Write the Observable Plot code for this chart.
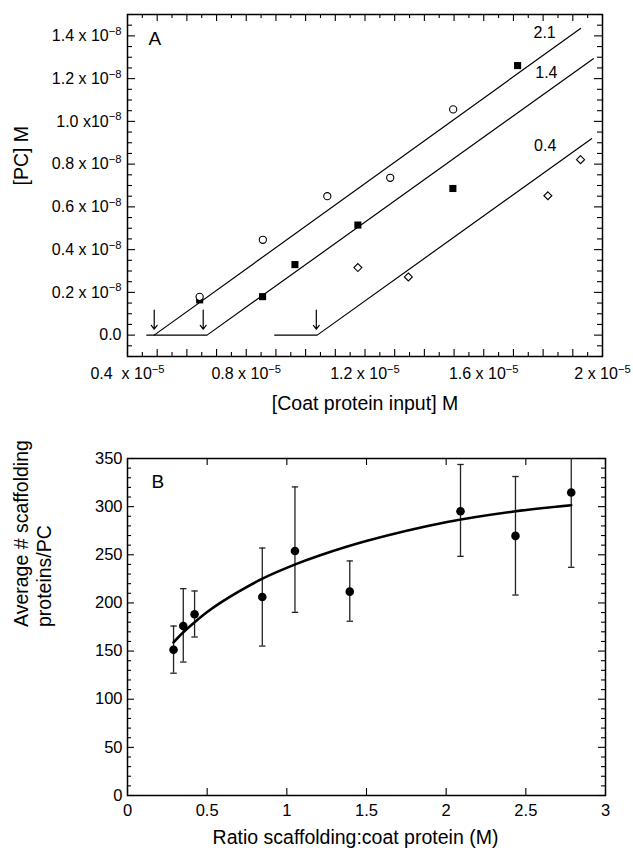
<!DOCTYPE html>
<html><head><meta charset="utf-8">
<script src="https://cdn.jsdelivr.net/npm/d3@7"></script>
<script src="https://cdn.jsdelivr.net/npm/@observablehq/plot@0.6"></script>
<style>
body{margin:0;background:#fff;}
#chart svg{display:block;}
</style></head><body><div id="chart"></div>
<script>
// ---------- Panel A data (x in 1e-5 M, y in 1e-8 M) ----------
const circX = [0.643, 0.856, 1.073, 1.285, 1.497];
const circY = [0.179, 0.446, 0.650, 0.736, 1.056];
const sqX = [0.643, 0.855, 0.964, 1.176, 1.496, 1.714];
const sqY = [0.165, 0.180, 0.330, 0.515, 0.686, 1.261];
const diaX = [1.176, 1.346, 1.816, 1.926];
const diaY = [0.316, 0.272, 0.652, 0.821];
const fit21X = [0.465, 0.490, 1.926];
const fit21Y = [0, 0, 1.435];
const fit14X = [0.490, 0.668, 1.969];
const fit14Y = [0, 0, 1.293];
const fit04X = [0.896, 1.039, 1.963];
const fit04Y = [0, 0, 0.919];
const arrowX = [0.490, 0.655, 1.036];
const arrowYStart = [0.117, 0.117, 0.117];
const arrowYEnd = [0.028, 0.028, 0.028];
const fitLabels = ["2.1", "1.4", "0.4"];
const fitLabelX = [1.805, 1.811, 1.807];
const fitLabelY = [1.414, 1.225, 0.884];
const xTicksA = [0.4, 0.8, 1.2, 1.6, 2.0];
const xTickLabelsA = ["0.4  x 10^−5", "0.8 x 10^−5", "1.2 x 10^−5", "1.6 x 10^−5", "2 x 10^−5"];
const yTicksA = [0, 0.2, 0.4, 0.6, 0.8, 1.0, 1.2, 1.4];
const yTickLabelsA = ["0.0", "0.2 x 10^−8", "0.4 x 10^−8", "0.6 x 10^−8", "0.8 x 10^−8", "1.0 x10^−8", "1.2 x 10^−8", "1.4 x 10^−8"];
const xMajorA = [0.4,0.5,0.6,0.7,0.8,0.9,1.0,1.1,1.2,1.3,1.4,1.5,1.6,1.7,1.8,1.9,2.0];
const xMinorA = [0.45,0.55,0.65,0.75,0.85,0.95,1.05,1.15,1.25,1.35,1.45,1.55,1.65,1.75,1.85,1.95];
const yMinorA = [-0.1,-0.05,0.05,0.1,0.15,0.25,0.3,0.35,0.45,0.5,0.55,0.65,0.7,0.75,0.85,0.9,0.95,1.05,1.1,1.15,1.25,1.3,1.35,1.45,1.5];

// ---------- Panel B data ----------
const ratio = [0.289, 0.350, 0.421, 0.846, 1.051, 1.395, 2.090, 2.435, 2.785];
const avgScaf = [151.4, 176.0, 188.2, 206.2, 254.0, 211.7, 295.2, 269.6, 314.7];
const errLow = [127.0, 138.6, 164.6, 155.2, 190.2, 181.0, 248.4, 208.2, 237.0];
const errHigh = [176.0, 214.8, 212.4, 257.0, 320.5, 243.6, 343.8, 331.3, 392.0];
const curveX = [0.289, 0.350, 0.425, 0.500, 0.582, 0.700, 0.844, 1.053, 1.210, 1.504, 2.006, 2.425, 2.785];
const curveY = [159.0, 169.5, 180.5, 190.5, 200.0, 212.0, 225.0, 240.0, 249.5, 264.5, 284.0, 295.0, 301.5];
const xTicksB = [0, 0.5, 1, 1.5, 2, 2.5, 3];
const yTicksB = [0, 50, 100, 150, 200, 250, 300, 350];
const yMinorB = [10,20,30,40,60,70,80,90,110,120,130,140,160,170,180,190,210,220,230,240,260,270,280,290,310,320,330,340];

const FONT = "Liberation Sans, Arial, Helvetica, sans-serif";
const W = 633;

function superscripts(svg) {
  d3.select(svg).selectAll('g[aria-label$="tick label"] text').each(function() {
    const t = this.textContent;
    if (t.includes("^")) {
      const [base, exp] = t.split("^");
      this.textContent = base;
      d3.select(this).append("tspan").attr("dy", "-0.55em").attr("font-size", "0.7em").text(exp);
    }
  });
}

// ---------- Panel A ----------
const mA = {top: 14, bottom: 74, left: 127, right: 31};
const hA = 430;
const fwA = W - mA.left - mA.right, fhA = hA - mA.top - mA.bottom;
const pts = (xs, ys) => xs.map((x, i) => ({x, y: ys[i]}));

const plotA = Plot.plot({
  width: W, height: hA,
  marginTop: mA.top, marginBottom: mA.bottom, marginLeft: mA.left, marginRight: mA.right,
  style: {fontFamily: FONT, fontSize: "16px", background: "white", color: "black"},
  x: {domain: [0.4, 2.0]},
  y: {domain: [-0.1, 1.5]},
  marks: [
    Plot.ruleX(xMajorA, {x: d => d, insetTop: fhA - 7, strokeWidth: 1.1}),
    Plot.ruleX(xMajorA, {x: d => d, insetBottom: fhA - 7, strokeWidth: 1.1}),
    Plot.ruleX(xMinorA, {x: d => d, insetTop: fhA - 4, strokeWidth: 1.1}),
    Plot.ruleX(xMinorA, {x: d => d, insetBottom: fhA - 4, strokeWidth: 1.1}),
    Plot.ruleY(yTicksA, {y: d => d, insetRight: fwA - 8, strokeWidth: 1.1}),
    Plot.ruleY(yTicksA, {y: d => d, insetLeft: fwA - 8, strokeWidth: 1.1}),
    Plot.ruleY(yMinorA, {y: d => d, insetRight: fwA - 5, strokeWidth: 1.1}),
    Plot.ruleY(yMinorA, {y: d => d, insetLeft: fwA - 5, strokeWidth: 1.1}),
    Plot.axisX(xTicksA, {tickFormat: d => xTickLabelsA[xTicksA.indexOf(d)], tickSize: 0, tickPadding: 11, fontSize: 16, label: null}),
    Plot.axisY(yTicksA, {tickFormat: d => yTickLabelsA[yTicksA.indexOf(d)], tickSize: 0, tickPadding: 6, fontSize: 16, label: null}),
    Plot.frame({stroke: "black", strokeWidth: 1.5}),
    Plot.line(pts(fit21X, fit21Y), {x: "x", y: "y", stroke: "black", strokeWidth: 1.2}),
    Plot.line(pts(fit14X, fit14Y), {x: "x", y: "y", stroke: "black", strokeWidth: 1.2}),
    Plot.line(pts(fit04X, fit04Y), {x: "x", y: "y", stroke: "black", strokeWidth: 1.2}),
    Plot.arrow(arrowX.map((x, i) => ({x, y1: arrowYStart[i], y2: arrowYEnd[i]})),
      {x1: "x", x2: "x", y1: "y1", y2: "y2", stroke: "black", strokeWidth: 1.2, headLength: 6, headAngle: 75}),
    Plot.text(fitLabels.map((t, i) => ({t, x: fitLabelX[i], y: fitLabelY[i]})),
      {x: "x", y: "y", text: "t", fontSize: 16, fill: "black"}),
    Plot.dot(pts(sqX, sqY), {x: "x", y: "y", symbol: "square", r: 4, fill: "black", stroke: "none"}),
    Plot.dot(pts(circX, circY), {x: "x", y: "y", symbol: "circle", r: 3.6, fill: "white", stroke: "black", strokeWidth: 1.1}),
    Plot.dot(pts(diaX, diaY), {x: "x", y: "y", symbol: "diamond2", r: 3.6, fill: "white", stroke: "black", strokeWidth: 1.1}),
    Plot.text(["A"], {text: d => d, frameAnchor: "top-left", textAnchor: "start", lineAnchor: "middle", dx: 21, dy: 24, fontSize: 19}),
    Plot.text(["[Coat protein input] M"], {text: d => d, frameAnchor: "bottom", lineAnchor: "middle", dy: 47, fontSize: 19.5}),
    Plot.text(["[PC] M"], {text: d => d, frameAnchor: "left", lineAnchor: "middle", rotate: -90, dx: -106, fontSize: 19.5})
  ]
});
superscripts(plotA);

// ---------- Panel B ----------
const mB = {top: 28, bottom: 55, left: 127, right: 28};
const hB = 420;
const fwB = W - mB.left - mB.right, fhB = hB - mB.top - mB.bottom;
const ptsB = ratio.map((x, i) => ({x, y: avgScaf[i], lo: errLow[i], hi: errHigh[i]}));
const cap = {draw(ctx) { ctx.moveTo(-3.2, 0); ctx.lineTo(3.2, 0); }};

const plotB = Plot.plot({
  width: W, height: hB,
  marginTop: mB.top, marginBottom: mB.bottom, marginLeft: mB.left, marginRight: mB.right,
  style: {fontFamily: FONT, fontSize: "16px", background: "white", color: "black"},
  x: {domain: [0, 3]},
  y: {domain: [0, 350]},
  marks: [
    Plot.ruleX(xTicksB, {x: d => d, insetTop: fhB - 7, strokeWidth: 1.1}),
    Plot.ruleX(xTicksB, {x: d => d, insetBottom: fhB - 7, strokeWidth: 1.1}),
    Plot.ruleY(yTicksB, {y: d => d, insetRight: fwB - 7, strokeWidth: 1.1}),
    Plot.ruleY(yTicksB, {y: d => d, insetLeft: fwB - 7, strokeWidth: 1.1}),
    Plot.ruleY(yMinorB, {y: d => d, insetRight: fwB - 4, strokeWidth: 1.1}),
    Plot.ruleY(yMinorB, {y: d => d, insetLeft: fwB - 4, strokeWidth: 1.1}),
    Plot.axisX(xTicksB, {tickFormat: d => String(d), tickSize: 0, tickPadding: 9, fontSize: 16.5, label: null}),
    Plot.axisY(yTicksB, {tickFormat: d => String(d), tickSize: 0, tickPadding: 5, fontSize: 16.5, label: null}),
    Plot.frame({stroke: "black", strokeWidth: 1.5}),
    Plot.ruleX(ptsB, {x: "x", y1: "lo", y2: "hi", stroke: "#222", strokeWidth: 1.3, clip: true}),
    Plot.dot(ptsB, {x: "x", y: "lo", symbol: cap, fill: "none", stroke: "#222", strokeWidth: 1.3, clip: true}),
    Plot.dot(ptsB, {x: "x", y: "hi", symbol: cap, fill: "none", stroke: "#222", strokeWidth: 1.3, clip: true}),
    Plot.line(curveX.map((x, i) => ({x, y: curveY[i]})), {x: "x", y: "y", curve: "catmull-rom", stroke: "black", strokeWidth: 2.6}),
    Plot.dot(ptsB, {x: "x", y: "y", r: 4.3, fill: "black", stroke: "none"}),
    Plot.text(["B"], {text: d => d, frameAnchor: "top-left", textAnchor: "start", lineAnchor: "middle", dx: 24, dy: 23.5, fontSize: 19}),
    Plot.text(["Ratio scaffolding:coat protein (M)"], {text: d => d, frameAnchor: "bottom", lineAnchor: "middle", dy: 42, dx: -11, fontSize: 19.5}),
    Plot.text(["Average # scaffolding\nproteins/PC"], {text: d => d, frameAnchor: "left", lineAnchor: "middle", rotate: -90, dx: -95.5, lineHeight: 1.18, fontSize: 19.5})
  ]
});

document.getElementById("chart").append(plotA, plotB);
</script>
</body></html>
